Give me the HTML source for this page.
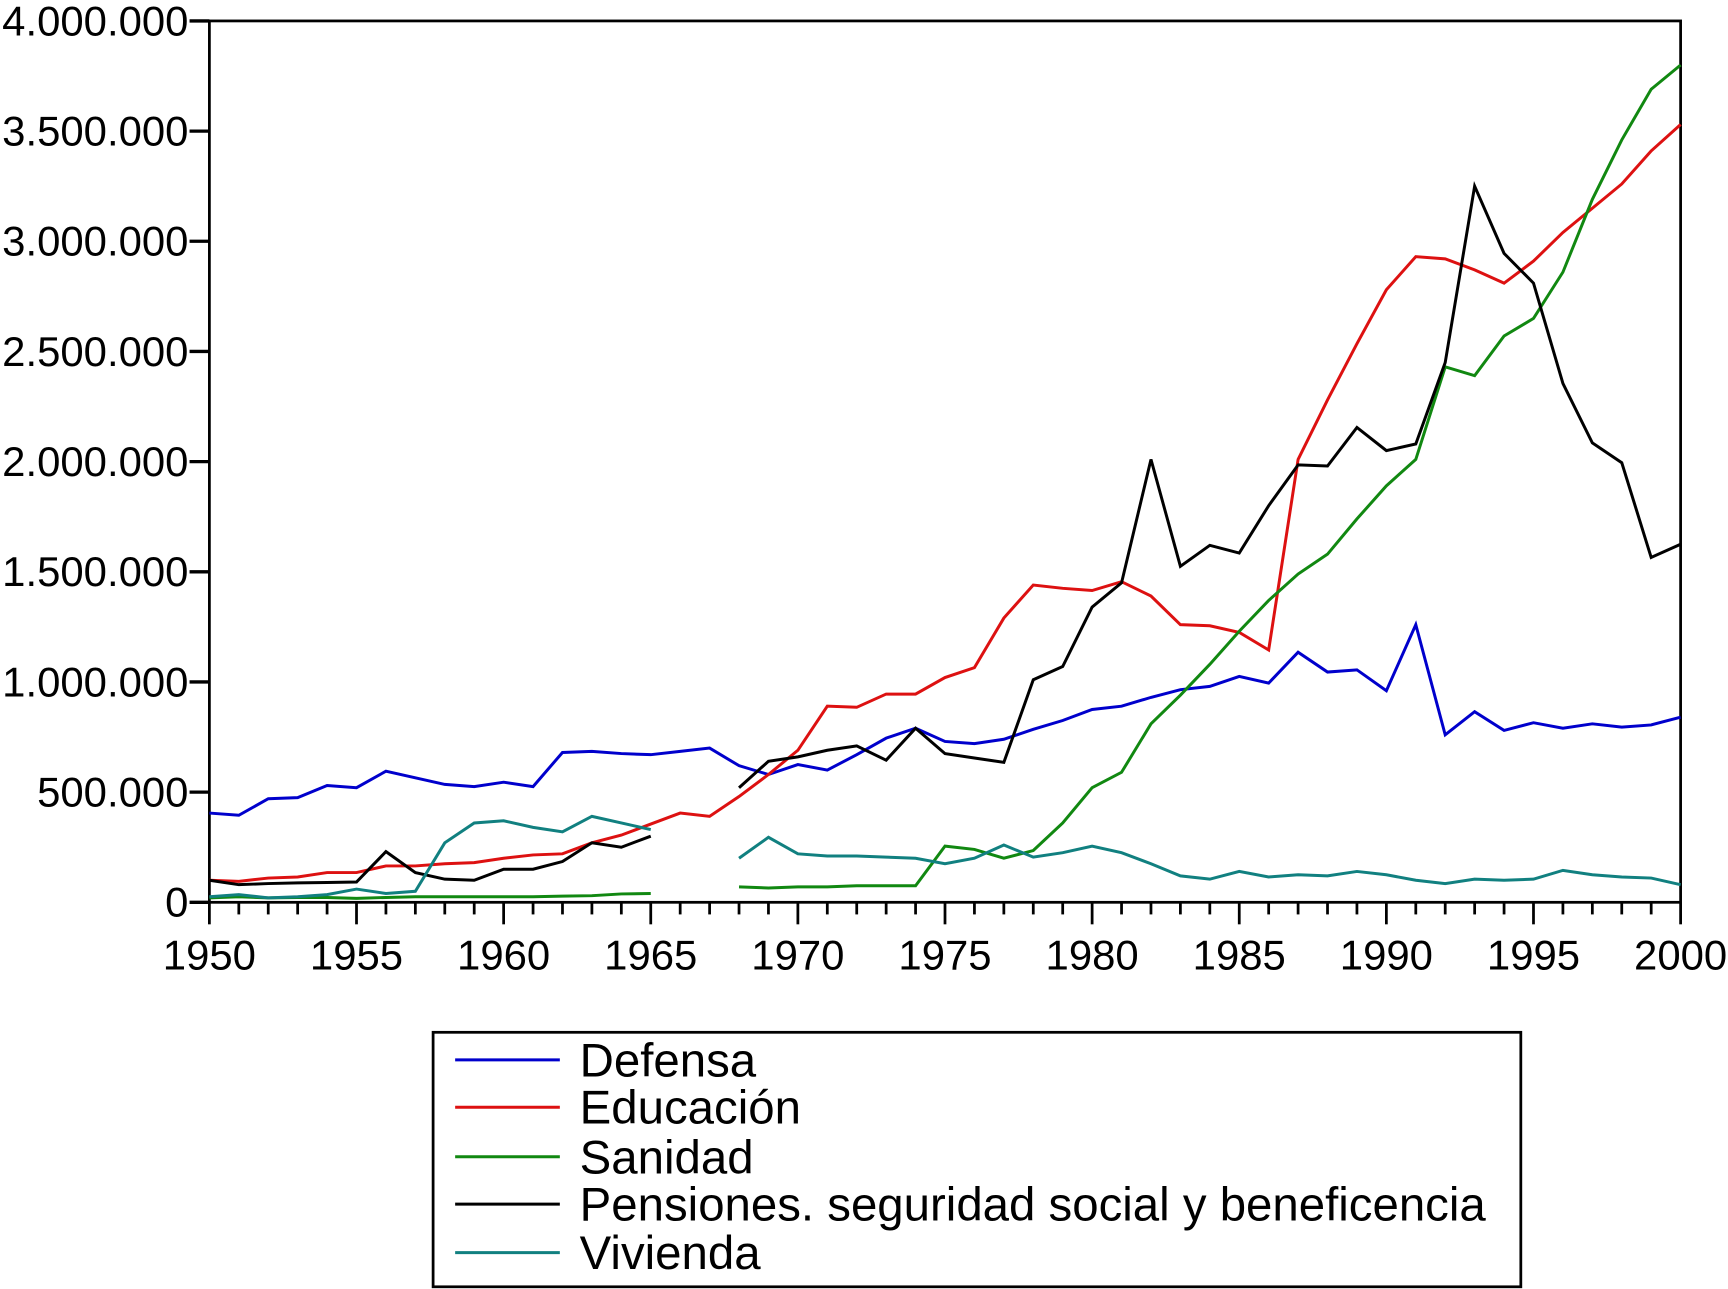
<!DOCTYPE html>
<html><head><meta charset="utf-8"><style>
html,body{margin:0;padding:0;background:#fff;}
svg{display:block;}
text{font-family:"Liberation Sans",Arial,sans-serif;fill:#000;}
</style></head><body>
<svg id="chart" width="1728" height="1289" viewBox="0 0 1568 1170" preserveAspectRatio="none" xmlns="http://www.w3.org/2000/svg">
<g id="axes"></g>
<g id="series"></g>
<g id="legend"></g>
</svg>
<script>
const years = [];
for (let y = 1950; y <= 2000; y++) years.push(y);
const yTicks = [0, 500000, 1000000, 1500000, 2000000, 2500000, 3000000, 3500000, 4000000];
const yTickLabels = ["0","500.000","1.000.000","1.500.000","2.000.000","2.500.000","3.000.000","3.500.000","4.000.000"];
const xTickLabels = ["1950","1955","1960","1965","1970","1975","1980","1985","1990","1995","2000"];
// values in thousands
const defensa = [405,395,470,475,530,520,595,565,535,525,545,525,680,685,675,670,685,700,620,580,625,600,670,745,790,730,720,740,785,825,875,890,930,965,980,1025,995,1135,1045,1055,960,1260,760,865,780,815,790,810,795,805,840];
const educacion = [100,95,110,115,135,135,165,165,175,180,200,215,220,270,305,355,405,390,480,580,690,890,885,945,945,1020,1065,1290,1440,1425,1415,1455,1390,1260,1255,1225,1145,2010,2280,2535,2780,2930,2920,2870,2810,2910,3040,3150,3260,3410,3530];
const sanidad = [20,25,20,22,22,18,22,25,25,25,25,25,28,30,38,40,null,null,70,65,70,70,75,75,75,255,240,200,235,360,520,590,810,940,1080,1230,1370,1490,1580,1740,1890,2010,2430,2390,2570,2650,2860,3190,3460,3690,3800];
const pensiones = [100,80,85,88,90,92,230,135,105,100,150,150,185,270,250,300,null,null,520,640,660,690,710,645,790,675,655,635,1010,1070,1340,1450,2010,1525,1620,1585,1800,1985,1980,2155,2050,2080,2450,3250,2945,2810,2355,2085,1995,1565,1625];
const vivienda = [25,35,20,25,35,60,40,50,270,360,370,340,320,390,360,330,null,null,200,295,220,210,210,205,200,175,200,260,205,225,255,225,175,120,105,140,115,125,120,140,125,100,85,105,100,105,145,125,115,110,80];
const seriesNames = ["Defensa","Educación","Sanidad","Pensiones. seguridad social y beneficencia","Vivienda"];
const seriesColors = ["#0000cc","#dd1111","#118811","#000000","#118080"];
const seriesData = [defensa, educacion, sanidad, pensiones, vivienda];

const NS = "http://www.w3.org/2000/svg";
const X0 = 190, X1 = 1525, Y0 = 819, Y1 = 19;
const xs = yr => X0 + (yr - 1950) / 50 * (X1 - X0);
const ys = v => Y0 - v / 4000000 * (Y0 - Y1);
function mk(tag, attrs, parent) {
  const e = document.createElementNS(NS, tag);
  for (const k in attrs) e.setAttribute(k, attrs[k]);
  parent.appendChild(e);
  return e;
}
const axes = document.getElementById('axes');
const frame = mk('rect', {x: X0, y: Y1, width: X1 - X0, height: Y0 - Y1, fill: 'none', stroke: '#000', 'stroke-width': 2.5}, axes);


yTicks.forEach((v, i) => {
  const t = mk('line', {x1: X0 - 18, x2: X0, y1: ys(v), y2: ys(v), stroke: '#000', 'stroke-width': 3}, axes);
  
  
  const l = mk('text', {x: 171, y: ys(v) + 13, 'text-anchor': 'end', 'font-size': 38, textLength: 0}, axes);
  l.removeAttribute('textLength');
  l.textContent = yTickLabels[i];
  
  
});
years.forEach(yr => {
  const major = (yr % 5 === 0);
  const t = mk('line', {x1: xs(yr), x2: xs(yr), y1: Y0, y2: Y0 + (major ? 20 : 11), stroke: '#000', 'stroke-width': 2.5}, axes);
  
  
});
xTickLabels.forEach(lbl => {
  const l = mk('text', {x: xs(+lbl), y: 880, 'text-anchor': 'middle', 'font-size': 38}, axes);
  l.textContent = lbl;
  
  
});
const sg = document.getElementById('series');
seriesData.forEach((data, si) => {
  let d = '', pen = false;
  data.forEach((v, i) => {
    if (v === null) { pen = false; return; }
    d += (pen ? 'L' : 'M') + xs(years[i]).toFixed(1) + ',' + ys(v * 1000).toFixed(1);
    pen = true;
  });
  const p = mk('path', {d: d, fill: 'none', stroke: seriesColors[si], 'stroke-width': 2.7, 'stroke-linejoin': 'miter'}, sg);
  
  
});
const lg = document.getElementById('legend');
const box = mk('rect', {x: 393, y: 937, width: 987, height: 231, fill: '#fff', stroke: '#000', 'stroke-width': 2.5}, lg);


const rowY = [962, 1005, 1050, 1093, 1137];
seriesNames.forEach((n, i) => {
  const ln = mk('line', {x1: 413, x2: 508, y1: rowY[i], y2: rowY[i], stroke: seriesColors[i], 'stroke-width': 2.7}, lg);
  
  
  const t = mk('text', {x: 526, y: rowY[i] + 15, 'font-size': 43}, lg);
  t.textContent = n;
  
  
});
</script>
</body></html>
